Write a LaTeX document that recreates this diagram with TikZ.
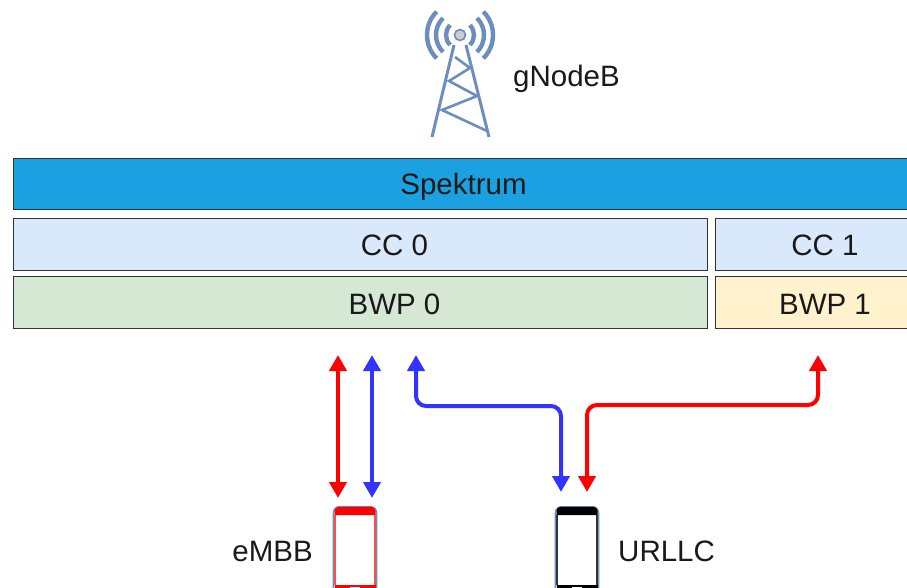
\documentclass[tikz,border=0pt]{standalone}
\usepackage{fontspec}
\setmainfont{Liberation Sans}
\usetikzlibrary{arrows.meta}
\definecolor{specblue}{HTML}{1BA1E2}
\definecolor{ccblue}{HTML}{DAE8FC}
\definecolor{bwpgreen}{HTML}{D5E8D4}
\definecolor{bwpyellow}{HTML}{FFF2CC}
\definecolor{towerblue}{HTML}{6C8EBF}
\definecolor{arrowblue}{HTML}{3333FF}
\tikzset{
  bandbox/.style={draw=black!80,line width=1.1pt,minimum height=#1,inner sep=0pt,anchor=north west},
  plainlabel/.style={inner sep=0pt,text=black!90,font=\fontsize{29.5}{31}\selectfont},
  link/.style={line width=4pt,rounded corners=10pt},
  tipboth/.style={{Triangle[length=16pt,width=17pt]}-{Triangle[length=16pt,width=17pt]}},
  tower/.style={draw=towerblue,line width=3pt},
  wave/.style={draw=towerblue,line width=4.4pt},
  phone/.style={draw=towerblue,line width=1.6pt,fill=white,rounded corners=6pt,minimum width=43pt,minimum height=110pt,inner sep=0pt,anchor=north},
}
\begin{document}
\begin{tikzpicture}[x=1pt,y=-1pt]
\useasboundingbox (0,0) rectangle (907,588);
\clip (0,0) rectangle (907,588);
% tower
\coordinate (tip) at (460,35);
\draw[tower] (454,45) -- (432,137);
\draw[tower] (466,45) -- (489,137);
\draw[tower,line width=2.6pt] (455,57) -- (470,68) -- (449,81) -- (477,96) -- (442,110) -- (487,131);
\foreach \r in {14,24,33}{
  \draw[wave] (tip) ++(135:\r pt) arc[start angle=135,end angle=225,radius=\r pt];
  \draw[wave] (tip) ++(45:\r pt) arc[start angle=45,end angle=-45,radius=\r pt];
}
\fill[black!20,draw=towerblue,line width=1.6pt] (tip) circle (5.5pt);
\node[plainlabel,anchor=base] (gnb) at (566.5,87) {gNodeB};
% bands
\node[bandbox=51pt,fill=specblue,minimum width=920pt] (spec) at (13,158) {};
\node[bandbox=52pt,fill=ccblue,minimum width=694pt] (cc0) at (13,218) {};
\node[bandbox=52pt,fill=bwpgreen,minimum width=694pt] (bwp0) at (13,276) {};
\node[bandbox=52pt,fill=ccblue,minimum width=220pt] (cc1) at (715,218) {};
\node[bandbox=52pt,fill=bwpyellow,minimum width=220pt] (bwp1) at (715,276) {};
\node[plainlabel,anchor=base] (specl) at (463.5,194) {Spektrum};
\node[plainlabel,anchor=base] (cc0l) at (394.5,255) {CC 0};
\node[plainlabel,anchor=base] (bwp0l) at (394.5,314) {BWP 0};
\node[plainlabel,anchor=base] (cc1l) at (825,255) {CC 1};
\node[plainlabel,anchor=base] (bwp1l) at (825,314) {BWP 1};
% phones
\node[phone] (ph1) at (355,506) {};
\fill[red] (338.5,506.8) -- (371.5,506.8) arc[start angle=90,end angle=0,radius=4pt] -- (375.5,515) -- (334.5,515) -- (334.5,510.8) arc[start angle=180,end angle=90,radius=4pt] -- cycle;
\draw[red!70,line width=1.2pt] (335,515) -- (335,585);
\draw[red!70,line width=1.2pt] (375,515) -- (375,585);
\fill[red] (334.5,585) rectangle (375.5,588);
\fill[white] (350,586.5) rectangle (360,588);
\node[phone] (ph2) at (577,506) {};
\fill[black] (560.5,506.8) -- (593.5,506.8) arc[start angle=90,end angle=0,radius=4pt] -- (597.5,515) -- (556.5,515) -- (556.5,510.8) arc[start angle=180,end angle=90,radius=4pt] -- cycle;
\draw[black!80,line width=1.2pt] (557,515) -- (557,585);
\draw[black!80,line width=1.2pt] (597,515) -- (597,585);
\fill[black] (556.5,585) rectangle (597.5,588);
\fill[white] (572,586.5) rectangle (582,588);
\node[plainlabel,anchor=base east] (embb) at (313,561) {eMBB};
\node[plainlabel,anchor=base west] (urllc) at (618,561) {URLLC};
% connector ends
\coordinate (r1top) at (338,355);
\coordinate (r1bot) at (338,498);
\coordinate (b1top) at (372,355);
\coordinate (b1bot) at (372,498);
\coordinate (b2top) at (416,355);
\coordinate (b2bot) at (561,492);
\coordinate (r2top) at (818,355);
\coordinate (r2bot) at (587,492);
\draw[link,tipboth,red] (r1top) -- (r1bot);
\draw[link,tipboth,arrowblue] (b1top) -- (b1bot);
\draw[link,tipboth,arrowblue] (b2top) -- (b2top |- 0,406) -- (b2bot |- 0,406) -- (b2bot);
\draw[link,tipboth,red] (r2top) -- (r2top |- 0,405) -- (r2bot |- 0,405) -- (r2bot);
\end{tikzpicture}
\end{document}
